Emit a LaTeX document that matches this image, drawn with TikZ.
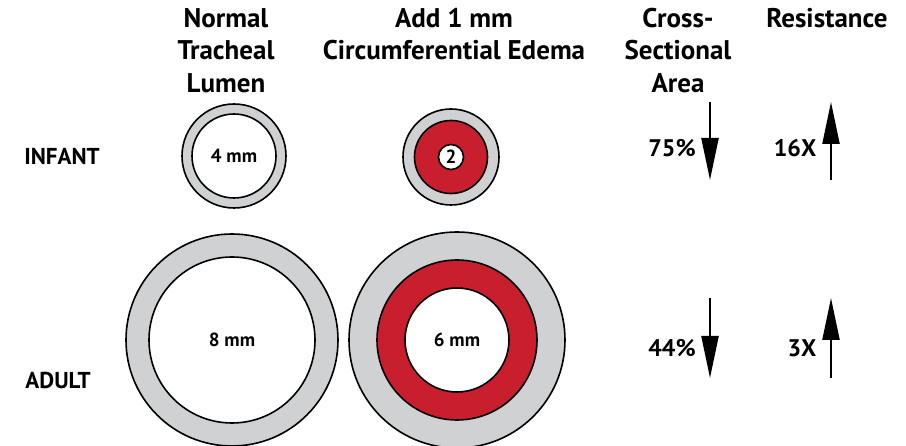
\documentclass[tikz,border=0pt]{standalone}
\usepackage{fontspec}
\setmainfont{PT Sans}
\usetikzlibrary{arrows.meta}

\definecolor{wallgray}{RGB}{208,209,211}
\definecolor{edemared}{RGB}{200,30,45}

\begin{document}
\begin{tikzpicture}[
  x=1pt, y=-1pt,
  head/.style={font=\fontsize{27}{32.5}\selectfont\bfseries, align=center, inner sep=0pt, anchor=north},
  rowlab/.style={font=\fontsize{23}{26}\selectfont\bfseries},
  val/.style={font=\fontsize{24}{28}\selectfont\bfseries},
  mm/.style={font=\fontsize{19}{22}\selectfont\bfseries},
  disc/.style={circle, draw, line width=1.6pt, inner sep=0pt},
  updown/.style={line width=2.2pt, -{Triangle[length=42pt, width=17pt]}},
  ]
  \useasboundingbox (0,0) rectangle (906,446);

  % --- column headings ---
  \node[head] (hnormal) at (226,8) {Normal\\Tracheal\\Lumen};
  \node[head] (hedema)  at (454,8) {Add 1 mm\\Circumferential Edema};
  \node[head] (harea)   at (678,8) {Cross-\\Sectional\\Area};
  \node[head] (hres)    at (827,8) {Resistance};

  % --- row labels ---
  \node[rowlab] (infant) at (62,156) {INFANT};
  \node[rowlab] (adult)  at (58,380) {ADULT};

  % --- infant trachea: normal / with edema ---
  \node[disc, fill=wallgray, minimum size=104pt] (iwall) at (234,156) {};
  \node[disc, fill=white, minimum size=84pt, mm] (ilumen) at (iwall) {4 mm};

  \node[disc, fill=wallgray, minimum size=96pt] (iewall) at (451,157) {};
  \node[disc, fill=edemared, minimum size=73pt] (iered) at (iewall) {};
  \node[disc, fill=white, minimum size=25pt, mm] (ielumen) at (iewall) {2};

  % --- adult trachea: normal / with edema ---
  \node[disc, fill=wallgray, minimum size=212pt] (awall) at (232,340) {};
  \node[disc, fill=white, minimum size=166pt, mm] (alumen) at (awall) {8 mm};

  \node[disc, fill=wallgray, minimum size=216pt] (aewall) at (457,340) {};
  \node[disc, fill=edemared, minimum size=160pt] (aered) at (aewall) {};
  \node[disc, fill=white, minimum size=104pt, mm] (aelumen) at (aewall) {6 mm};

  % --- area and resistance changes ---
  \node[val] (infarea) at (672,148) {75\%};
  \node[val] (infres)  at (795,148) {16X};
  \node[val] (aduarea) at (672,348) {44\%};
  \node[val] (adures)  at (802,348) {3X};

  \foreach \r/\top/\bot in {inf/102/180, adu/298/378} {
    \coordinate (\r areatop) at (710,\top);
    \coordinate (\r areabot) at (710,\bot);
    \coordinate (\r restop)  at (831,\top);
    \coordinate (\r resbot)  at (831,\bot);
    \draw[updown] (\r areatop) -- (\r areabot);
    \draw[updown] (\r resbot) -- (\r restop);
  }
\end{tikzpicture}
\end{document}
